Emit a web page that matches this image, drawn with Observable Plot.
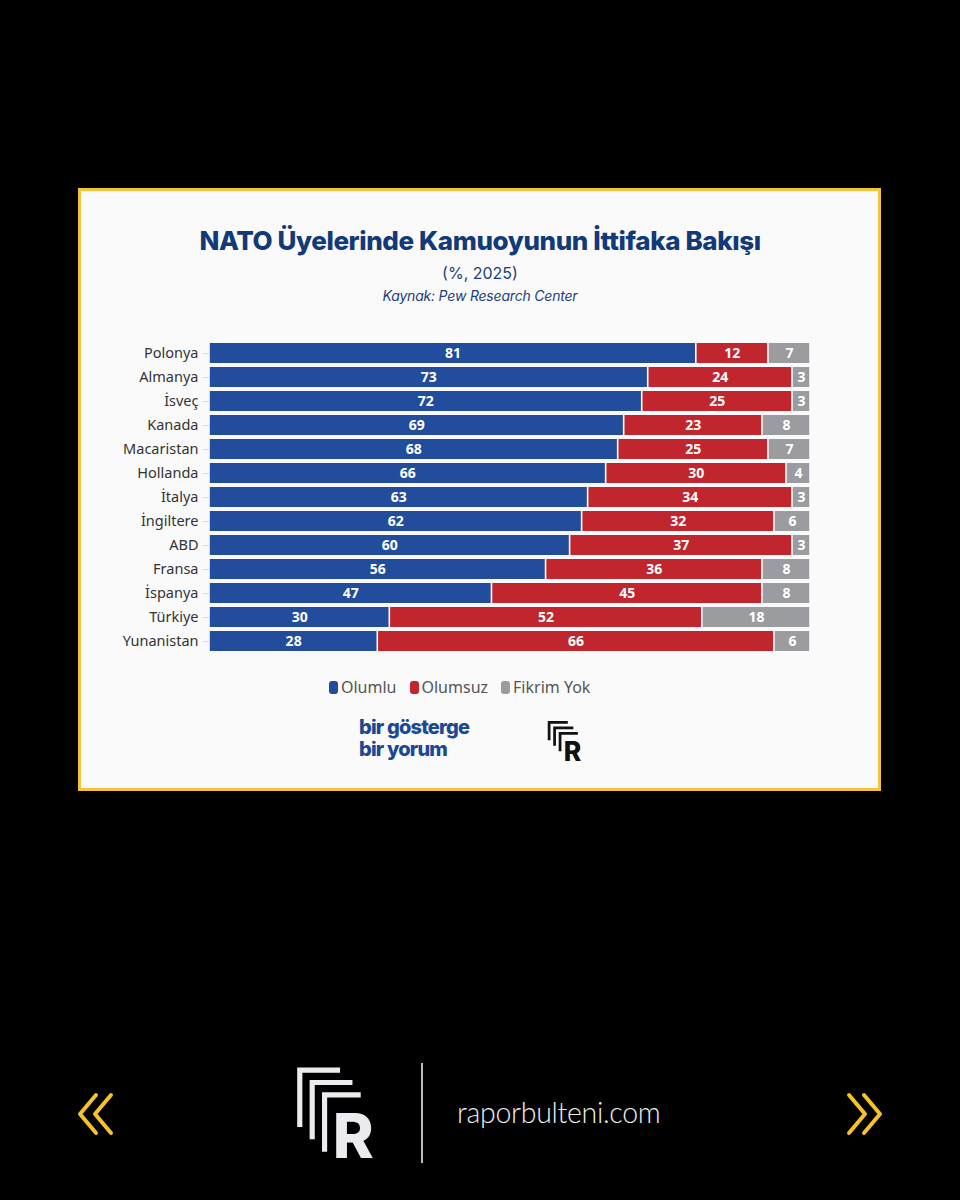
<!DOCTYPE html>
<html>
<head>
<meta charset="utf-8">
<script src="https://cdn.jsdelivr.net/npm/d3@7"></script>
<script src="https://cdn.jsdelivr.net/npm/@observablehq/plot@0.6"></script>
<style>
  html, body { margin: 0; padding: 0; background: #000; }
  body { width: 960px; height: 1200px; position: relative; overflow: hidden; font-family: "Noto Sans", sans-serif; }
  .card { position: absolute; left: 78px; top: 188px; width: 797px; height: 597px; background: #fafafa; border: 3px solid #f6c33b; }
  .abs { position: absolute; }
  .title { left: 0; width: 960px; top: 226px; text-align: center; font-family: Inter, sans-serif; font-weight: 800; font-size: 26px; line-height: 30px; color: #123a78; letter-spacing: -0.4px; }
  .sub { left: 0; width: 960px; top: 263px; text-align: center; font-family: Inter, sans-serif; font-size: 16px; line-height: 20px; color: #1d3f7c; }
  .src { left: 0; width: 960px; top: 287px; text-align: center; font-family: Inter, sans-serif; font-style: italic; font-size: 14px; line-height: 18px; color: #1d3f7c; letter-spacing: -0.2px; }
  #chart { left: 100px; top: 329px; }
  #legend { left: 329px; top: 676px; display: flex; gap: 13px; font-size: 16px; color: #555; line-height: 22px; }
  #legend span.sw { display: inline-block; width: 9px; height: 13px; border-radius: 3px; margin-right: 3px; vertical-align: -1px; }
  .brand { left: 359px; font-family: Inter, sans-serif; font-weight: 800; font-size: 20px; line-height: 20px; color: #1a4895; letter-spacing: -0.8px; }
  .url { left: 457px; top: 1093px; font-family: Lato, sans-serif; font-weight: 300; font-size: 28.5px; line-height: 38px; color: #eee; letter-spacing: -0.3px; }
  .sep { left: 421px; top: 1063px; width: 1.5px; height: 100px; background: #bbb; }
  svg.abs { overflow: visible; }
</style>
</head>
<body>
<div class="card"></div>
<div class="abs title">NATO Üyelerinde Kamuoyunun İttifaka Bakışı</div>
<div class="abs sub">(%, 2025)</div>
<div class="abs src">Kaynak: Pew Research Center</div>
<div class="abs" id="chart"></div>
<div class="abs" id="legend"></div>
<div class="abs brand" style="top:717px">bir gösterge</div>
<div class="abs brand" style="top:739px">bir yorum</div>

<svg class="abs" style="left:547px;top:721px" width="38" height="42" viewBox="0 0 80 92">
  <g fill="none" stroke="#111" stroke-width="6" stroke-linejoin="miter">
    <path d="M3,42 V3 H44"/>
    <path d="M15,54 V15 H56"/>
    <path d="M27,66 V27 H66"/>
  </g>
  <text x="35" y="88" font-family="Inter, sans-serif" font-weight="800" font-size="58" fill="#111">R</text>
</svg>

<svg class="abs" style="left:296px;top:1067px" width="84" height="95" viewBox="0 0 80 92">
  <g fill="none" stroke="#ececf0" stroke-width="5" stroke-linejoin="miter">
    <path d="M3,58 V3 H42"/>
    <path d="M15,70 V15 H54"/>
    <path d="M27,82 V27 H62"/>
  </g>
  <text x="35" y="88" font-family="Inter, sans-serif" font-weight="800" font-size="60" fill="#ececf0">R</text>
</svg>
<div class="abs sep"></div>
<div class="abs url">raporbulteni.com</div>

<svg class="abs" style="left:74px;top:1090px" width="44" height="48">
  <g fill="none" stroke="#f7c225" stroke-width="4" stroke-linecap="round" stroke-linejoin="round">
    <path d="M22,5 L6,24 L22,43"/>
    <path d="M37,5 L21,24 L37,43"/>
  </g>
</svg>
<svg class="abs" style="left:842px;top:1090px" width="44" height="48">
  <g fill="none" stroke="#f7c225" stroke-width="4" stroke-linecap="round" stroke-linejoin="round">
    <path d="M7,5 L23,24 L7,43"/>
    <path d="M22,5 L38,24 L22,43"/>
  </g>
</svg>

<script>
const countries = ["Polonya","Almanya","İsveç","Kanada","Macaristan","Hollanda","İtalya","İngiltere","ABD","Fransa","İspanya","Türkiye","Yunanistan"];
const groups = ["Olumlu","Olumsuz","Fikrim Yok"];
const colors = ["#224d9c","#c1262e","#9b9ca0"];
const olumlu   = [81,73,72,69,68,66,63,62,60,56,47,30,28];
const olumsuz  = [12,24,25,23,25,30,34,32,37,36,45,52,66];
const fikirYok = [7,3,3,8,7,4,3,6,3,8,8,18,6];

const series = [olumlu, olumsuz, fikirYok];
const data = [];
countries.forEach((c, i) => {
  groups.forEach((g, j) => data.push({country: c, group: g, value: series[j][i]}));
});

const chart = Plot.plot({
  width: 740,
  height: 336,
  marginLeft: 109,
  marginRight: 30,
  marginTop: 7,
  marginBottom: 8,
  style: {background: "transparent", fontFamily: "'Noto Sans', sans-serif"},
  x: {domain: [0, 100], axis: null},
  y: {domain: countries, padding: 0.17, label: null},
  color: {domain: groups, range: colors},
  marks: [
    Plot.barX(data, Plot.stackX({x: "value", y: "country", fill: "group", order: groups, insetLeft: 0.8, insetRight: 0.8})),
    Plot.text(data, Plot.stackX({x: "value", y: "country", z: "group", order: groups, text: d => String(d.value), fill: "white", fontWeight: "bold", fontSize: 14})),
    Plot.axisY({tickSize: 6, tickPadding: 5, stroke: "#dcdcdc", fill: "#333", fontSize: 14.5, label: null})
  ]
});
document.getElementById("chart").appendChild(chart);

const legend = document.getElementById("legend");
groups.forEach((g, j) => {
  const item = document.createElement("div");
  const sw = document.createElement("span");
  sw.className = "sw";
  sw.style.background = colors[j];
  item.appendChild(sw);
  item.appendChild(document.createTextNode(g));
  legend.appendChild(item);
});
</script>
</body>
</html>
